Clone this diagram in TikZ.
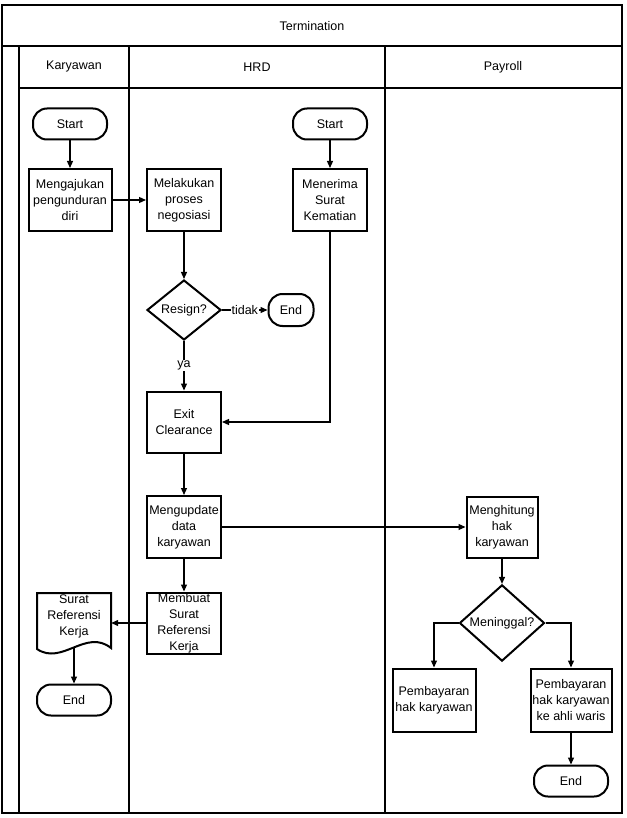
\documentclass[tikz,border=0pt]{standalone}
\usepackage{fontspec}
\setmainfont{Liberation Sans}
\usetikzlibrary{shapes.geometric, arrows.meta}
\begin{document}
\begin{tikzpicture}[x=1pt, y=-1pt,
  every node/.style={font=\fontsize{12.5}{16}\selectfont},
  box/.style={draw, line width=2pt, rectangle, align=center, inner sep=0pt, minimum width=74pt, minimum height=61pt},
  term/.style={draw, line width=2pt, rectangle, rounded corners=14pt, minimum width=74pt, minimum height=31pt, inner sep=0pt},
  dec/.style={draw, line width=2pt, diamond, inner sep=0pt, minimum width=74pt, minimum height=60pt},
  conn/.style={line width=1.2pt, -{Triangle[length=7pt,width=6pt]}},
  lane/.style={line width=2pt},
  lbl/.style={fill=white, inner sep=1pt}
]
\useasboundingbox (0,0) rectangle (626,818);
% swimlane frame
\draw[lane] (2,5) rectangle (622,813);
\draw[lane] (2,46) -- (622,46);
\draw[lane] (19,88) -- (622,88);
\draw[lane] (19,46) -- (19,813);
\draw[lane] (129,46) -- (129,813);
\draw[lane] (385,46) -- (385,813);
\node (title) at (312,26) {Termination};
\node (hk) at (74,67) {Karyawan};
\node (hh) at (257,67) {HRD};
\node (hp) at (503,67) {Payroll};

% Karyawan / HRD
\node[term] (s1) at (70,124) {Start};
\node[box, minimum width=83pt, minimum height=62pt] (ajukan) at (70,200) {Mengajukan\\pengunduran\\diri};
\node[box, minimum height=62pt] (nego) at (184,200) {Melakukan\\proses\\negosiasi};
\node[term] (s2) at (330,124) {Start};
\node[box, minimum height=62pt] (terima) at (330,200) {Menerima\\Surat\\Kematian};
\node[dec] (resign) at (184,310) {Resign?};
\node[term, minimum width=45pt, minimum height=32pt] (e2) at (291,310) {End};
\node[box] (exit) at (184,422) {Exit\\Clearance};
\node[box, minimum height=62pt] (update) at (184,527) {Mengupdate\\data\\karyawan};
\node[box] (membuat) at (184,623) {};
\node[align=center] (membuattxt) at (membuat.center) {Membuat\\Surat\\Referensi\\Kerja};
\node[align=center, minimum width=74pt, inner sep=0pt] (doc) at (74,616) {Surat\\Referensi\\Kerja};
\draw[line width=2pt] (37,649) -- (37,593) -- (111,593) -- (111,648)
  .. controls (86,628) and (62,666) .. (37,649) -- cycle;
\coordinate (docb) at (74,647.4);
\node[term] (e1) at (74,700) {End};

% Payroll
\node[box, minimum width=71pt] (hitung) at (502,527) {Menghitung\\hak\\karyawan};
\node[dec, minimum width=85pt, minimum height=61pt] (mati) at (502,623) {Meninggal?};
\node[box, minimum width=83pt, minimum height=63pt] (bayar1) at (434,700) {Pembayaran\\hak karyawan};
\node[box, minimum width=81pt, minimum height=63pt] (bayar2) at (571,700) {Pembayaran\\hak karyawan\\ke ahli waris};
\node[term] (e3) at (571,781) {End};

% connectors
\draw[conn] (s1) -- (ajukan);
\draw[conn] (ajukan) -- (nego);
\draw[conn] (s2) -- (terima);
\draw[conn] (nego) -- (resign);
\draw[conn] (resign) -- node[lbl] {tidak} (e2);
\draw[conn] (resign) -- node[lbl] {ya} (exit);
\draw[conn] (terima.south) |- (exit.east);
\draw[conn] (exit) -- (update);
\draw[conn] (update) -- (hitung);
\draw[conn] (update) -- (membuat);
\draw[conn] (membuat.west) -- (membuat.west -| doc.east);
\draw[conn] (docb) -- (e1);
\draw[conn] (hitung) -- (mati);
\draw[conn] (mati.west) -| (bayar1.north);
\draw[conn] (mati.east) -| (bayar2.north);
\draw[conn] (bayar2) -- (e3);
\end{tikzpicture}
\end{document}
